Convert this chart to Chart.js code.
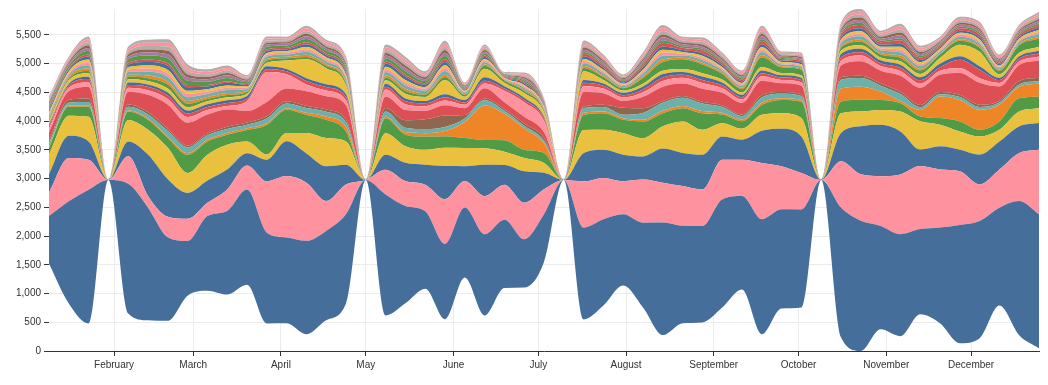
<!DOCTYPE html>
<html>
<head>
<meta charset="utf-8">
<script src="https://cdn.jsdelivr.net/npm/chart.js@4/dist/chart.umd.min.js"></script>
<style>
  html, body { margin: 0; padding: 0; background: #fff; }
  #wrap { width: 1048px; height: 385px; }
</style>
</head>
<body>
<div id="wrap"><canvas id="chart"></canvas></div>
<script>
// weekly samples
const weeks = ["2023-01-09","2023-01-16","2023-01-23","2023-01-30","2023-02-06","2023-02-13","2023-02-20","2023-02-27",
  "2023-03-06","2023-03-13","2023-03-20","2023-03-27","2023-04-03","2023-04-10","2023-04-17","2023-04-24","2023-05-01",
  "2023-05-08","2023-05-15","2023-05-22","2023-05-29","2023-06-05","2023-06-12","2023-06-19","2023-06-26","2023-07-03",
  "2023-07-10","2023-07-17","2023-07-24","2023-07-31","2023-08-07","2023-08-14","2023-08-21","2023-08-28","2023-09-04",
  "2023-09-11","2023-09-18","2023-09-25","2023-10-02","2023-10-09","2023-10-16","2023-10-23","2023-10-30","2023-11-06",
  "2023-11-13","2023-11-20","2023-11-27","2023-12-04","2023-12-11","2023-12-18","2023-12-25"];

const monthStarts = ["2023-02-01","2023-03-01","2023-04-01","2023-05-01","2023-06-01","2023-07-01",
  "2023-08-01","2023-09-01","2023-10-01","2023-11-01","2023-12-01"];
const monthLabels = ["February","March","April","May","June","July","August","September","October","November","December"];
const yTicks = [0,500,1000,1500,2000,2500,3000,3500,4000,4500,5000,5500];

// series, bottom to top
const blue1 = [831,1782,2330,0,2255,1961,1453,951,1298,1453,1655,1580,1494,1626,1557,1552,0,2105,1696,1349,1309,1217,1413,1188,842,832,0,1597,1499,1240,1476,1960,1696,1678,1881,1626,2001,1724,1707,0,2255,2266,1800,1776,1482,1667,2059,2041,1701,2335,2330];
const pink1 = [403,750,519,0,479,202,358,387,230,375,421,894,1067,1009,519,519,0,432,432,462,779,461,663,606,634,432,0,807,721,576,750,692,692,634,691,634,980,750,634,0,807,808,865,1038,1096,1009,934,635,663,836,1124];
const blue2 = [318,387,317,0,259,721,651,449,387,346,213,375,605,511,606,346,0,260,317,346,576,260,548,346,548,288,0,490,490,462,404,594,576,606,404,347,560,652,635,0,490,836,894,749,288,404,375,519,490,462,462];
const yellow1 = [346,351,433,0,375,433,548,346,450,433,202,90,144,354,490,403,0,374,289,259,317,317,288,230,231,173,0,405,347,374,317,387,549,433,231,190,277,270,317,0,346,259,259,346,491,375,317,317,203,259,259];
const green1 = [115,156,173,0,144,172,172,318,230,173,203,516,404,316,317,173,0,260,202,231,202,173,144,202,144,173,0,259,287,231,289,230,230,287,150,130,173,231,288,0,202,202,173,144,86,115,174,116,144,231,202];
const orange1 = [20,20,25,0,25,25,30,30,30,30,30,30,30,40,60,80,0,30,40,60,90,280,600,460,375,170,0,40,30,30,30,40,40,40,30,30,40,30,30,0,230,230,150,40,110,375,375,345,290,200,230];
const teal1 = [60,50,60,0,60,70,90,100,80,70,60,80,80,80,80,80,0,90,80,70,70,60,90,50,40,40,0,80,80,60,120,140,140,130,100,60,90,80,70,0,150,150,100,120,50,40,50,50,40,40,40];
const brown1 = [40,50,60,0,40,40,40,30,30,40,40,40,40,40,40,50,0,60,130,170,200,60,30,30,40,50,0,30,40,120,80,30,30,30,30,30,40,30,30,0,50,40,40,40,40,40,40,40,30,60,60];
const red1 = [150,150,200,0,220,300,420,400,330,300,200,250,220,250,230,250,0,200,180,150,180,120,180,120,120,100,0,250,200,120,200,250,220,230,220,200,250,150,150,0,200,250,220,280,300,300,380,380,250,280,300];
const pink2 = [60,60,80,0,70,80,100,100,80,60,170,520,250,120,100,80,0,120,100,80,80,60,80,200,250,200,0,100,80,60,80,100,100,100,80,60,80,60,60,0,80,100,80,80,70,70,80,80,60,60,70];
const red2 = [50,40,60,0,50,60,60,60,50,50,40,50,50,60,60,60,0,50,50,50,60,40,50,40,40,40,0,60,50,40,50,60,50,50,50,40,50,40,40,0,60,60,50,60,60,60,150,150,50,50,50];
const blue3 = [30,30,40,0,40,40,50,50,50,50,50,50,40,50,50,50,0,50,50,40,50,40,60,40,40,30,0,50,40,40,50,60,50,60,50,40,50,40,40,0,60,60,50,50,50,60,60,60,40,40,50];
const yellow2 = [50,60,60,0,60,60,70,60,50,50,40,60,150,330,280,150,0,60,80,70,250,60,150,60,80,80,0,150,60,40,50,60,50,60,50,40,60,40,40,0,60,60,50,60,60,100,200,250,60,60,70];
const green2 = [30,30,40,0,40,50,70,60,40,40,30,40,40,40,40,40,0,50,50,40,50,30,50,40,40,30,0,60,50,40,100,150,170,150,100,60,170,100,100,0,50,60,50,60,60,60,70,70,60,130,140];
// thin series on top
const misc1 = [27,26,40,0,35,45,53,46,34,34,19,28,25,36,30,31,0,38,40,27,42,14,25,10,22,14,0,32,26,16,30,43,26,31,25,22,37,18,20,0,29,38,28,40,29,21,28,30,19,24,31];
const misc2 = [41,38,60,0,53,67,79,68,52,52,29,42,37,54,46,47,0,58,60,41,64,22,37,14,32,22,0,48,40,24,44,65,40,47,37,32,55,28,30,0,43,58,42,60,43,31,42,46,29,36,47];
const misc3 = [36,30,52,0,40,58,62,60,45,40,26,33,33,42,40,37,0,50,47,36,50,20,29,13,25,19,0,42,31,21,35,57,31,41,29,28,44,24,23,0,38,45,37,48,38,24,37,36,25,28,41];
const misc4 = [30,31,44,0,42,50,60,50,38,40,21,30,28,41,33,36,0,43,46,30,48,16,28,11,24,16,0,35,30,18,34,48,30,35,28,24,41,21,22,0,32,44,31,45,32,24,31,34,21,27,35];
const misc5 = [38,35,55,0,47,62,72,63,47,46,27,39,34,49,42,43,0,53,55,37,58,20,34,13,30,20,0,44,36,22,41,59,36,43,34,30,51,25,28,0,40,53,38,55,40,29,38,42,26,33,43];
const misc6 = [24,22,35,0,31,39,46,40,30,30,17,25,22,32,27,27,0,38,40,28,44,15,27,11,24,16,0,44,38,23,43,62,38,45,36,31,53,26,29,0,41,55,40,57,41,30,40,44,28,35,45];
const misc7 = [44,42,65,0,57,73,86,74,56,56,31,45,40,58,49,50,0,55,57,38,60,20,34,13,29,19,0,32,26,16,29,43,26,31,25,22,37,18,20,0,28,37,27,38,28,20,27,29,18,23,30];
const misc8 = [33,34,48,0,45,54,68,55,42,45,23,36,30,46,37,40,0,47,51,33,54,17,32,12,26,18,0,39,34,19,38,53,34,38,32,26,47,22,26,0,35,49,34,51,35,27,34,39,23,31,38];
const misc9 = [32,29,46,0,41,51,61,54,40,39,23,32,29,43,35,36,0,44,47,31,49,17,29,11,25,17,0,37,31,19,34,50,31,36,29,25,43,21,23,0,33,45,33,46,34,24,33,35,22,28,36];
const misc10 = [37,35,54,0,49,61,73,62,47,47,26,38,34,50,41,43,0,52,55,37,58,20,34,13,30,20,0,43,36,22,41,59,36,43,34,30,50,25,28,0,40,53,38,55,39,29,38,42,26,33,43];
const misc11 = [35,33,51,0,44,57,65,58,44,42,25,35,31,46,39,39,0,49,50,35,52,19,31,12,27,18,0,41,33,21,37,55,33,40,31,28,46,23,25,0,37,48,35,50,36,26,35,38,24,30,39];
const misc12 = [33,31,49,0,43,53,64,55,41,42,23,34,30,44,37,38,0,46,49,33,51,17,30,12,26,17,0,39,32,19,36,52,32,38,30,26,44,22,24,0,35,46,34,48,35,25,34,37,23,29,37];

const series = [blue1, pink1, blue2, yellow1, green1, orange1, teal1, brown1, red1, pink2, red2, blue3, yellow2, green2,
  misc1, misc2, misc3, misc4, misc5, misc6, misc7, misc8, misc9, misc10, misc11, misc12];
const colors = ["#466e9b","#fe939f","#466e9b","#eac13e","#519a46","#ee8628","#6cb0ab","#8f6650","#dd4f54","#fe939f",
  "#dd4f54","#466e9b","#eac13e","#519a46",
  "#ee8628","#6cb0ab","#fe939f","#eac13e","#466e9b","#dd4f54","#519a46","#a977a0","#8f6650","#b5aca8","#fe939f","#b5aca8"];

// centered stack: baseline = (max total - total) / 2
const xs = weeks.map(d => Date.parse(d));
const totals = xs.map((_, i) => series.reduce((s, arr) => s + arr[i], 0));
const maxTotal = Math.max(...totals);
const baseline = totals.map(t => (maxTotal - t) / 2);

const datasets = [{
  label: "base",
  data: xs.map((x, i) => ({ x, y: baseline[i] })),
  fill: false,
  borderWidth: 0,
  borderColor: "rgba(0,0,0,0)"
}].concat(series.map((arr, k) => ({
  label: "s" + (k + 1),
  data: xs.map((x, i) => ({ x, y: arr[i] })),
  fill: "-1",
  backgroundColor: colors[k],
  borderColor: colors[k],
  borderWidth: 0
})));

Chart.defaults.font.family = "'Liberation Sans', Arial, sans-serif";
Chart.defaults.font.size = 10;
Chart.defaults.color = "#333";

new Chart(document.getElementById("chart"), {
  type: "line",
  data: { datasets },
  options: {
    responsive: true,
    maintainAspectRatio: false,
    animation: false,
    devicePixelRatio: 1,
    locale: "en-US",
    layout: { padding: { top: 6, right: 9, left: 0, bottom: 0 } },
    plugins: { legend: { display: false }, tooltip: { enabled: false } },
    elements: {
      line: { cubicInterpolationMode: "monotone", borderWidth: 0 },
      point: { radius: 0 }
    },
    scales: {
      x: {
        type: "linear",
        min: xs[0],
        max: xs[xs.length - 1],
        afterBuildTicks: s => { s.ticks = monthStarts.map(d => ({ value: Date.parse(d) })); },
        afterFit: s => { s.height = 34; },
        ticks: { autoSkip: false, maxRotation: 0, padding: 3, callback: (v, i) => monthLabels[i] },
        grid: { color: "#ebebeb", tickColor: "#333", tickLength: 5 },
        border: { display: true, color: "#333" }
      },
      y: {
        stacked: true,
        min: 0,
        max: maxTotal,
        afterBuildTicks: s => { s.ticks = yTicks.map(v => ({ value: v })); },
        afterFit: s => { s.width = 49; },
        ticks: { padding: 3, callback: v => v.toLocaleString("en-US") },
        grid: { color: "#ebebeb", tickColor: "#333", tickLength: 5 },
        border: { display: false }
      }
    }
  }
});
</script>
</body>
</html>
